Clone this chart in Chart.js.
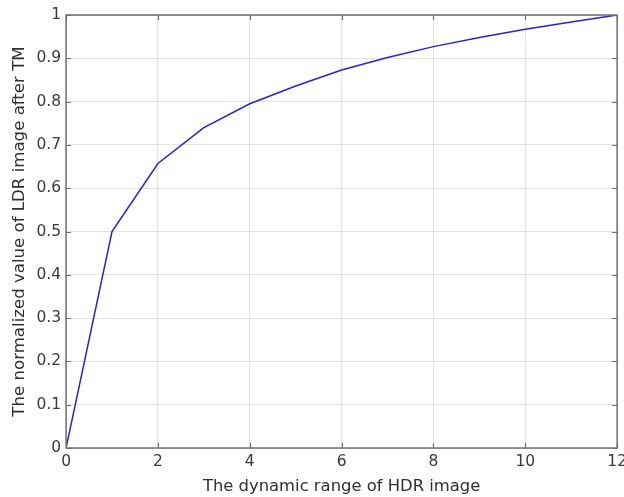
<!DOCTYPE html>
<html>
<head>
<meta charset="utf-8">
<script src="https://cdn.jsdelivr.net/npm/chart.js@4/dist/chart.umd.min.js"></script>
<style>
  html, body { margin: 0; padding: 0; background: #ffffff; overflow: hidden; }
  #wrap { width: 624px; height: 497px; overflow: hidden; }
  canvas { display: block; }
</style>
</head>
<body>
<div id="wrap"><canvas id="c" width="632" height="497"></canvas></div>
<script>
// Data
const xValues = [0, 1, 2, 3, 4, 5, 6, 7, 8, 9, 10, 11, 12];
const yValues = [0, 0.5, 0.657, 0.74, 0.795, 0.836, 0.873, 0.902, 0.927, 0.948, 0.967, 0.984, 1.0];
const xTicks = [0, 2, 4, 6, 8, 10, 12];
const yTicks = [0, 0.1, 0.2, 0.3, 0.4, 0.5, 0.6, 0.7, 0.8, 0.9, 1];
const xTitle = 'The dynamic range of HDR image';
const yTitle = 'The normalized value of LDR image after TM';

const AXIS_COLOR = '#6f6f6f';
const GRID_COLOR = '#e2e2e2';
const TEXT_COLOR = '#3a3a3a';
const FONT = "'DejaVu Sans', 'Liberation Sans', sans-serif";

const boxAndTicks = {
  id: 'boxAndTicks',
  afterDatasetsDraw(chart) {
    const { ctx, chartArea: a, scales } = chart;
    const len = 5;
    ctx.save();
    ctx.strokeStyle = AXIS_COLOR;
    ctx.lineWidth = 1.2;
    ctx.beginPath();
    scales.x.ticks.forEach((t, i) => {
      const px = Math.round(scales.x.getPixelForTick(i)) + 0.5;
      ctx.moveTo(px, a.bottom); ctx.lineTo(px, a.bottom - len);
      ctx.moveTo(px, a.top); ctx.lineTo(px, a.top + len);
    });
    scales.y.ticks.forEach((t, i) => {
      const py = Math.round(scales.y.getPixelForTick(i)) + 0.5;
      ctx.moveTo(a.left, py); ctx.lineTo(a.left + len, py);
      ctx.moveTo(a.right, py); ctx.lineTo(a.right - len, py);
    });
    ctx.stroke();
    ctx.lineWidth = 1.5;
    ctx.strokeRect(a.left, a.top, a.right - a.left, a.bottom - a.top);
    ctx.restore();
  }
};

new Chart(document.getElementById('c'), {
  type: 'line',
  data: {
    datasets: [{
      data: xValues.map((x, i) => ({ x: x, y: yValues[i] })),
      borderColor: '#2424d8',
      borderWidth: 1.5,
      pointRadius: 0,
      tension: 0,
      fill: false
    }]
  },
  options: {
    responsive: false,
    animation: false,
    layout: { padding: { left: 0, right: 13, top: 15, bottom: 0 } },
    plugins: { legend: { display: false }, tooltip: { enabled: false } },
    scales: {
      x: {
        type: 'linear',
        min: 0, max: 12,
        afterBuildTicks: (s) => { s.ticks = xTicks.map(v => ({ value: v })); },
        grid: { color: GRID_COLOR, drawTicks: false, lineWidth: 1 },
        border: { display: false },
        ticks: {
          padding: 5,
          color: TEXT_COLOR,
          font: { family: FONT, size: 15.5 },
          maxRotation: 0,
          callback: (v) => String(v)
        },
        title: {
          display: true,
          text: xTitle,
          color: '#303030',
          font: { family: FONT, size: 16.4 },
          padding: { top: 0.7, bottom: 0 }
        }
      },
      y: {
        type: 'linear',
        min: 0, max: 1,
        afterBuildTicks: (s) => { s.ticks = yTicks.map(v => ({ value: v })); },
        grid: { color: GRID_COLOR, drawTicks: false, lineWidth: 1 },
        border: { display: false },
        ticks: {
          padding: 5,
          color: TEXT_COLOR,
          font: { family: FONT, size: 15.5 },
          callback: (v) => String(Math.round(v * 10) / 10)
        },
        title: {
          display: true,
          text: yTitle,
          color: '#303030',
          font: { family: FONT, size: 16.6 },
          padding: { top: 10, bottom: 1.5 }
        }
      }
    }
  },
  plugins: [boxAndTicks]
});
</script>
</body>
</html>
